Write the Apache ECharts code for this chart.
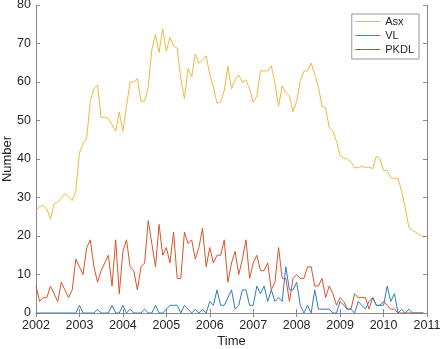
<!DOCTYPE html>
<html>
<head>
<meta charset="utf-8">
<script src="https://cdn.jsdelivr.net/npm/echarts@6/dist/echarts.min.js"></script>
<style>
html,body{margin:0;padding:0;background:#fff;}
#chart{width:440px;height:349px;}
</style>
</head>
<body>
<div id="chart"></div>
<script>
// Monthly series, Jan 2002 .. Dec 2010
var startYear = 2002;
var yearTicks = [2002, 2003, 2004, 2005, 2006, 2007, 2008, 2009, 2010, 2011];
var seriesNames = ['Asx', 'VL', 'PKDL'];

var asx = [
  26.6, 27.7, 27.9, 27.0, 24.4, 28.4, 28.7, 29.9, 31.0, 30.1, 29.2, 31.6,
  41.6, 44.0, 45.4, 55.0, 58.2, 59.2, 50.8, 50.9, 50.5, 48.9, 47.2, 52.2,
  47.2, 53.7, 60.0, 60.0, 60.9, 54.9, 55.1, 58.7, 68.4, 72.3, 67.7, 73.8,
  68.0, 71.6, 69.3, 68.8, 60.8, 55.7, 63.5, 61.3, 67.3, 64.9, 65.8, 66.8,
  61.9, 58.7, 54.5, 54.8, 57.8, 64.1, 58.2, 60.6, 61.8, 59.9, 60.6, 58.2,
  54.7, 56.4, 62.9, 62.9, 62.9, 64.2, 59.7, 53.7, 59.0, 57.3, 56.3, 52.3,
  55.0, 60.3, 62.8, 62.9, 64.9, 61.9, 58.7, 53.7, 53.2, 48.2, 47.2, 44.6,
  40.9, 40.2, 40.0, 39.2, 37.7, 37.8, 38.1, 37.8, 37.9, 37.5, 40.7, 40.1,
  37.0, 37.0, 35.1, 35.0, 35.0, 31.6, 27.3, 22.2, 21.5, 20.9, 20.3, 19.7
];
var vl = [
  7, 3, 4, 4, 7, 5, 3, 8, 6, 4, 6, 14,
  12, 10, 17, 19, 12, 8, 11, 13, 15, 7, 19, 5,
  16, 19, 12, 11, 6, 12, 13, 24, 18, 12, 23, 15,
  17, 13, 21, 9, 9, 21, 18, 19, 14, 17, 22, 12,
  17, 13, 15, 15, 19, 8, 13, 16, 10, 14, 19, 9,
  13, 15, 11, 11, 13, 6, 8, 17, 9, 9, 3, 9,
  10, 9, 9, 12, 12, 7, 7, 9, 4, 7, 5, 2,
  4, 3, 1, 1, 5, 4, 4, 4, 1, 4, 2, 2,
  3, 2, 1, 1, 0, 0, 0, 0, 0, 0, 0, 0
];
var pkdl = [
  0, 0, 0, 0, 0, 0, 0, 0, 0, 0, 0, 0,
  2, 0, 0, 0, 0, 1, 0, 0, 0, 2, 0, 0,
  2, 0, 1, 0, 0, 0, 1, 0, 0, 2, 0, 0,
  1, 2, 2, 2, 0, 2, 1, 0, 1, 0, 1, 0,
  3, 2, 6, 2, 2, 4, 6, 1, 2, 6, 6, 2,
  2, 7, 5, 7, 3, 6, 3, 4, 3, 12, 6, 6,
  8, 2, 0, 2, 0, 6, 1, 1, 1, 1, 0, 0,
  3, 2, 1, 1, 0, 3, 2, 1, 3, 4, 2, 2,
  2, 7, 3, 5, 0, 1, 0, 1, 0, 0, 0, 0
];
var colors = ['#F0B93F', '#D9542A', '#2F7CC4'];

function toPoints(arr) {
  return arr.map(function (v, i) { return [startYear + i / 12, v]; });
}

var axisGray = '#8a8a8a';
var textColor = '#262626';
var fontFam = '"Liberation Sans", Arial, Helvetica, sans-serif';

var chart = echarts.init(document.getElementById('chart'), null, {renderer: 'canvas'});
var option = {
  animation: false,
  backgroundColor: '#fff',
  color: colors,
  grid: {left: 36, right: 13, top: 5, bottom: 36, containLabel: false, outerBoundsMode: 'none'},
  legend: {
    orient: 'vertical',
    right: 21,
    top: 14,
    data: seriesNames,
    icon: 'rect',
    itemWidth: 25,
    itemHeight: 1,
    itemGap: 2,
    padding: [1.5, 5, 3.5, 3.5],
    borderColor: '#7f7f7f',
    borderWidth: 0.8,
    backgroundColor: '#fff',
    textStyle: {fontSize: 11, color: textColor, fontFamily: fontFam, lineHeight: 12}
  },
  xAxis: [{
    type: 'value',
    min: yearTicks[0],
    max: yearTicks[yearTicks.length - 1],
    interval: 1,
    position: 'bottom',
    name: 'Time',
    nameLocation: 'middle',
    nameGap: 22,
    nameMoveOverlap: false,
    nameTextStyle: {fontSize: 13, color: textColor, fontFamily: fontFam},
    axisLine: {show: true, lineStyle: {color: axisGray, width: 1}},
    axisTick: {show: true, inside: true, length: 4, lineStyle: {color: axisGray}},
    axisLabel: {show: true, margin: 6, fontSize: 12.5, color: textColor, fontFamily: fontFam,
      formatter: function (v) { return String(Math.round(v)); }},
    splitLine: {show: false}
  }, {
    type: 'value',
    min: yearTicks[0],
    max: yearTicks[yearTicks.length - 1],
    interval: 1,
    position: 'top',
    axisLine: {show: true, lineStyle: {color: axisGray, width: 1}},
    axisTick: {show: true, inside: true, length: 4, lineStyle: {color: axisGray}},
    axisLabel: {show: false},
    splitLine: {show: false}
  }],
  yAxis: [{
    type: 'value',
    min: 0,
    max: 80,
    interval: 10,
    position: 'left',
    name: 'Number',
    nameLocation: 'middle',
    nameGap: 22.5,
    nameMoveOverlap: false,
    nameRotate: 90,
    nameTextStyle: {fontSize: 13, color: textColor, fontFamily: fontFam},
    axisLine: {show: true, lineStyle: {color: axisGray, width: 1}},
    axisTick: {show: true, inside: true, length: 4, lineStyle: {color: axisGray}},
    axisLabel: {show: true, margin: 5, fontSize: 12.5, color: textColor, fontFamily: fontFam},
    splitLine: {show: false}
  }, {
    type: 'value',
    min: 0,
    max: 80,
    interval: 10,
    position: 'right',
    axisLine: {show: true, lineStyle: {color: axisGray, width: 1}},
    axisTick: {show: true, inside: true, length: 4, lineStyle: {color: axisGray}},
    axisLabel: {show: false},
    splitLine: {show: false}
  }],
  series: [
    {name: seriesNames[0], type: 'line', data: toPoints(asx), symbol: 'none', lineStyle: {width: 1, color: colors[0]}, itemStyle: {color: colors[0]}, z: 3},
    {name: seriesNames[1], type: 'line', data: toPoints(vl), symbol: 'none', lineStyle: {width: 1, color: colors[1]}, itemStyle: {color: colors[1]}, z: 4},
    {name: seriesNames[2], type: 'line', data: toPoints(pkdl), symbol: 'none', lineStyle: {width: 1, color: colors[2]}, itemStyle: {color: colors[2]}, z: 5}
  ]
};
chart.setOption(option);
</script>
</body>
</html>
